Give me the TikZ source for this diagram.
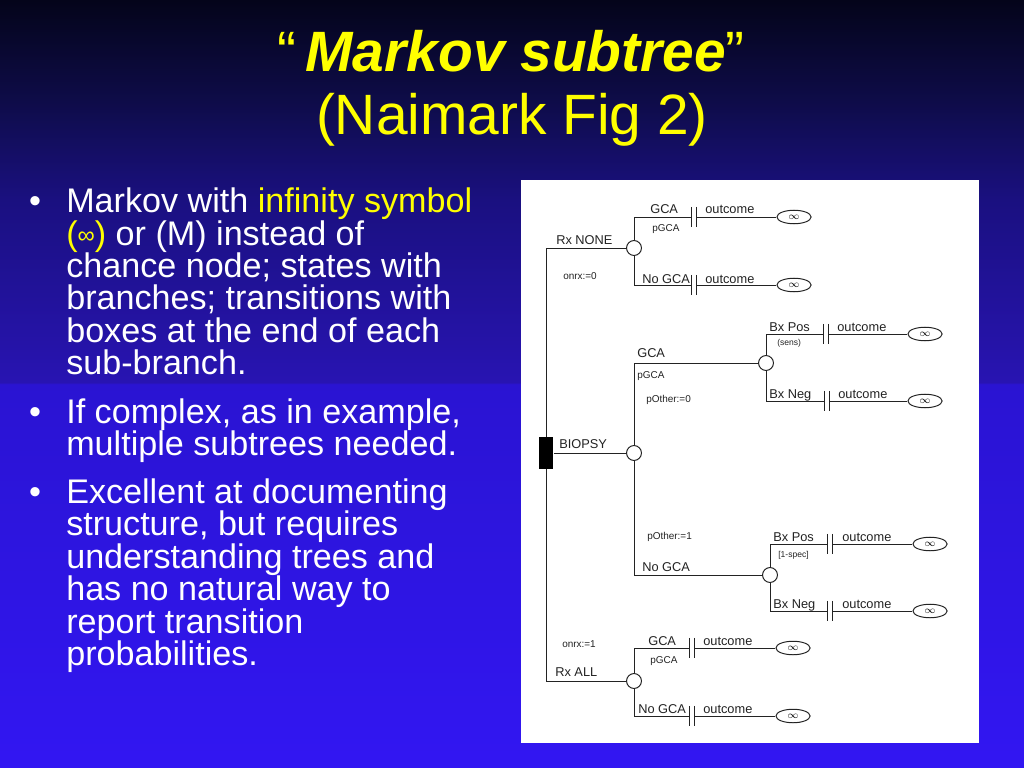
\documentclass[tikz,border=0pt]{standalone}
\usepackage{fontspec}
\setmainfont{Liberation Sans}
\usetikzlibrary{shapes.geometric}

\definecolor{bgtop}{RGB}{4,4,26}
\definecolor{bgtitle}{RGB}{14,12,72}
\definecolor{bgupper}{RGB}{26,16,128}
\definecolor{bgmidup}{RGB}{40,20,178}
\definecolor{bgmiddown}{RGB}{42,20,210}
\definecolor{bgbot}{RGB}{50,22,242}
\definecolor{slideyellow}{RGB}{255,255,0}
\definecolor{ink}{RGB}{35,35,35}
\pgfdeclareverticalshading{slidebg}{100bp}{color(0bp)=(bgbot); color(25bp)=(bgbot); color(50bp)=(bgmiddown); color(50.1bp)=(bgmidup); color(62bp)=(bgupper); color(68.5bp)=(bgtitle); color(75bp)=(bgtop); color(100bp)=(bgtop)}

\newcommand{\smallinf}{\raisebox{1.5pt}{\fontsize{17}{17}\selectfont ∞}}

\tikzset{
  tline/.style={draw=ink, line width=0.7pt},
  chance/.style={circle, draw=ink, line width=0.7pt, fill=white, minimum size=10.5pt, inner sep=0pt},
  markov/.style={ellipse, draw=ink, line width=0.7pt, fill=white, minimum width=24pt, minimum height=9.5pt, inner sep=0pt, font=\fontsize{7}{7}\selectfont},
  decision/.style={rectangle, fill=black, minimum width=10.5pt, minimum height=22pt, inner sep=0pt},
  tbar/.style={rectangle, minimum width=3pt, minimum height=14pt, inner sep=0pt,
    append after command={(\tikzlastnode.north west) edge[tline] (\tikzlastnode.south west)
      (\tikzlastnode.north east) edge[tline] (\tikzlastnode.south east)}},
  lbl/.style={font=\fontsize{9}{9}\selectfont, text=ink, inner sep=0pt, anchor=base west},
  smalllbl/.style={font=\fontsize{7}{7}\selectfont, text=ink, inner sep=0pt, anchor=base west},
  tinylbl/.style={font=\fontsize{6}{6}\selectfont, text=ink, inner sep=0pt, anchor=base west},
  title/.style={font=\fontsize{40}{40}\selectfont, text=slideyellow, inner sep=0pt, anchor=base},
  body/.style={font=\fontsize{24}{24}\selectfont, text=white, inner sep=0pt, anchor=base west},
}

\begin{document}
\begin{tikzpicture}[x=0.703125pt, y=-0.703125pt]
\useasboundingbox (0,0) rectangle (1024,768);
\fill[shading=slidebg] (0,0) rectangle (1024,768);

% title
\node[title] (title1) at (511,72) {“\,\textbf{\textit{Markov subtree}}”};
\node[title] (title2) at (512,135) {(Naimark Fig 2)};

% bullets
\node[body, anchor=base] (dot1) at (35,213) {•};
\node[body] (b1l1) at (66,213) {Markov with \textcolor{slideyellow}{infinity symbol}};
\node[body] (b1l2) at (66,245.3) {\textcolor{slideyellow}{(\smallinf)} or (M) instead of};
\node[body] (b1l3) at (66,277.6) {chance node; states with};
\node[body] (b1l4) at (66,309.9) {branches; transitions with};
\node[body] (b1l5) at (66,342.2) {boxes at the end of each};
\node[body] (b1l6) at (66,374.5) {sub-branch.};
\node[body, anchor=base] (dot2) at (35,423.5) {•};
\node[body] (b2l1) at (66,423.5) {If complex, as in example,};
\node[body] (b2l2) at (66,455.8) {multiple subtrees needed.};
\node[body, anchor=base] (dot3) at (35,503) {•};
\node[body] (b3l1) at (66,503) {Excellent at documenting};
\node[body] (b3l2) at (66,535.5) {structure, but requires};
\node[body] (b3l3) at (66,568) {understanding trees and};
\node[body] (b3l4) at (66,600.5) {has no natural way to};
\node[body] (b3l5) at (66,633) {report transition};
\node[body] (b3l6) at (66,665.5) {probabilities.};

% figure panel
\fill[white] (521,180) rectangle (979,743);

% trunk
\node[chance] (cNone) at (634,248) {};
\node[chance] (cAll) at (634,681) {};
\coordinate (jNone) at (546,248);
\coordinate (jAll) at (546,681);
\draw[tline] (cNone) -- (jNone) -- (jAll) -- (cAll);
\node[decision] (dBiop) at (546,453) {};
\node[lbl] (lNone) at (556,245) {Rx NONE};
\node[smalllbl] (lOnrx0) at (563,280) {onrx:=0};
\node[lbl] (lBiop) at (559,448) {BIOPSY};
\node[smalllbl] (lOnrx1) at (562,647) {onrx:=1};
\node[lbl] (lAll) at (555,676) {Rx ALL};

% Rx NONE
\node[tbar] (tNone1) at (694,217) {};
\node[markov] (mNone1) at (794,217) {$\infty$};
\node[tbar] (tNone2) at (694,285) {};
\node[markov] (mNone2) at (794,285) {$\infty$};
\draw[tline] (cNone) |- (tNone1) -- (mNone1);
\draw[tline] (cNone) |- (tNone2) -- (mNone2);
\node[lbl] (lGca1) at (650,214) {GCA};
\node[smalllbl] (lPgca1) at (652,232) {pGCA};
\node[lbl] (lOut1) at (705,214) {outcome};
\node[lbl] (lNogca1) at (642,283) {No GCA};
\node[lbl] (lOut2) at (705,283) {outcome};

% BIOPSY
\node[chance] (cBiop) at (634,453) {};
\node[chance] (cGca) at (766,363) {};
\node[chance] (cNogca) at (770,575) {};
\draw[tline] (dBiop) -- (cBiop);
\draw[tline] (cBiop) |- (cGca);
\draw[tline] (cBiop) |- (cNogca);
\node[lbl] (lGca2) at (637,357) {GCA};
\node[smalllbl] (lPgca2) at (637,378) {pGCA};
\node[smalllbl] (lPoth0) at (646,402) {pOther:=0};
\node[smalllbl] (lPoth1) at (647,539) {pOther:=1};
\node[lbl] (lNogca2) at (642,571) {No GCA};

% BIOPSY / GCA
\node[tbar] (tPos1) at (826,334) {};
\node[markov] (mPos1) at (925,334) {$\infty$};
\node[tbar] (tNeg1) at (827,401) {};
\node[markov] (mNeg1) at (925,401) {$\infty$};
\draw[tline] (cGca) |- (tPos1) -- (mPos1);
\draw[tline] (cGca) |- (tNeg1) -- (mNeg1);
\node[lbl] (lPos1) at (769,331) {Bx Pos};
\node[tinylbl] (lSens) at (777,346) {(sens)};
\node[lbl] (lOut3) at (837,331) {outcome};
\node[lbl] (lNeg1) at (769,398) {Bx Neg};
\node[lbl] (lOut4) at (838,398) {outcome};

% BIOPSY / No GCA
\node[tbar] (tPos2) at (830,544) {};
\node[markov] (mPos2) at (930,544) {$\infty$};
\node[tbar] (tNeg2) at (830,611) {};
\node[markov] (mNeg2) at (930,611) {$\infty$};
\draw[tline] (cNogca) |- (tPos2) -- (mPos2);
\draw[tline] (cNogca) |- (tNeg2) -- (mNeg2);
\node[lbl] (lPos2) at (773,541) {Bx Pos};
\node[tinylbl] (lSpec) at (778,557) {[1-spec]};
\node[lbl] (lOut5) at (842,541) {outcome};
\node[lbl] (lNeg2) at (773,608) {Bx Neg};
\node[lbl] (lOut6) at (842,608) {outcome};

% Rx ALL
\node[tbar] (tAll1) at (692,648) {};
\node[markov] (mAll1) at (793,648) {$\infty$};
\node[tbar] (tAll2) at (692,716) {};
\node[markov] (mAll2) at (793,716) {$\infty$};
\draw[tline] (cAll) |- (tAll1) -- (mAll1);
\draw[tline] (cAll) |- (tAll2) -- (mAll2);
\node[lbl] (lGca3) at (648,645) {GCA};
\node[smalllbl] (lPgca3) at (650,663) {pGCA};
\node[lbl] (lOut7) at (703,645) {outcome};
\node[lbl] (lNogca3) at (638,713) {No GCA};
\node[lbl] (lOut8) at (703,713) {outcome};
\end{tikzpicture}
\end{document}
